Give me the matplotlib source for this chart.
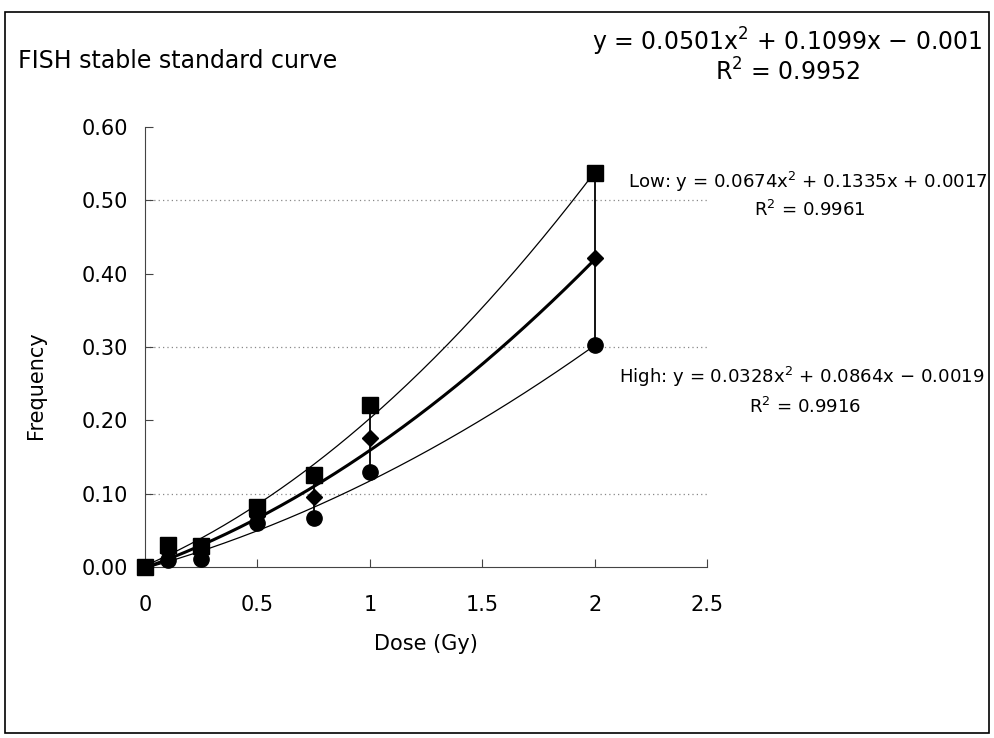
import matplotlib
matplotlib.use('Agg')
import matplotlib.pyplot as plt
import numpy as np
from matplotlib.patches import Rectangle

plt.rcParams['font.family'] = ['DejaVu Sans']

# dose points (Gy)
dose = [0, 0.1, 0.25, 0.5, 0.75, 1.0, 2.0]
low  = [0.0, 0.030, 0.028, 0.082, 0.125, 0.221, 0.537]
mean = [0.0, 0.020, 0.020, 0.070, 0.096, 0.176, 0.421]
high = [0.0, 0.010, 0.011, 0.060, 0.067, 0.130, 0.303]

# trendline coefficients (as printed on the chart)
coef_mean = [0.0501, 0.1099, -0.001]
coef_low  = [0.0674, 0.1335, 0.0017]
coef_high = [0.0328, 0.0864, -0.0019]

yticks = [0.0, 0.1, 0.2, 0.3, 0.4, 0.5, 0.6]
xticks = [0, 0.5, 1, 1.5, 2, 2.5]
xticklabels = ['0', '0.5', '1', '1.5', '2', '2.5']

fig = plt.figure(figsize=(9.94, 7.38), dpi=100)
fig.patches.append(Rectangle((0.005, 0.007), 0.99, 0.977, transform=fig.transFigure,
                             fill=False, edgecolor='k', lw=1.2))
ax = fig.add_axes([0.1459, 0.2317, 0.5654, 0.5962])

# dotted grid lines
for g in [0.1, 0.3, 0.5]:
    ax.axhline(g, color='#888888', lw=0.9, ls=(0, (1, 2.5)), zorder=1)

# fitted curves
xs = np.linspace(0, 2, 200)
ax.plot(xs, np.polyval(coef_low, xs), color='k', lw=0.9, zorder=2)
ax.plot(xs, np.polyval(coef_mean, xs), color='k', lw=2.2, zorder=2)
ax.plot(xs, np.polyval(coef_high, xs), color='k', lw=0.9, zorder=2)

# vertical range lines low-high
for d, lo, hi in zip(dose, low, high):
    ax.plot([d, d], [hi, lo], color='k', lw=1.3, zorder=2)

ax.plot(dose, low, ls='none', marker='s', ms=11.5, color='k', clip_on=False, zorder=4)
ax.plot(dose, mean, ls='none', marker='D', ms=8, color='k', clip_on=False, zorder=4)
ax.plot(dose, high, ls='none', marker='o', ms=11, color='k', clip_on=False, zorder=4)

ax.set_xlim(0, 2.5)
ax.set_ylim(0, 0.6)
ax.spines['top'].set_visible(False)
ax.spines['right'].set_visible(False)
ax.spines['left'].set_color('#444444')
ax.spines['bottom'].set_color('#444444')
ax.set_xticks(xticks)
ax.set_xticklabels(xticklabels)
ax.set_yticks(yticks)
ax.set_yticklabels(['%.2f' % v for v in yticks])
ax.tick_params(axis='both', direction='in', length=6, labelsize=15, pad=12, color='#444444')
ax.tick_params(axis='x', pad=20)

ax.set_xlabel('Dose (Gy)', fontsize=15, labelpad=14)
fig.text(0.036, 0.478, 'Frequency', fontsize=15, rotation=90, ha='center', va='center')

fig.text(0.018, 0.918, 'FISH stable standard curve', fontsize=17, ha='left', va='center')
fig.text(0.792, 0.943, r'y = 0.0501x$^2$ + 0.1099x $-$ 0.001', fontsize=17, ha='center', va='center')
fig.text(0.792, 0.902, r'R$^2$ = 0.9952', fontsize=17, ha='center', va='center')

fig.text(0.632, 0.753, r'Low: y = 0.0674x$^2$ + 0.1335x + 0.0017', fontsize=13.1, ha='left', va='center')
fig.text(0.815, 0.715, r'R$^2$ = 0.9961', fontsize=13.1, ha='center', va='center')
fig.text(0.623, 0.489, r'High: y = 0.0328x$^2$ + 0.0864x $-$ 0.0019', fontsize=13.1, ha='left', va='center')
fig.text(0.810, 0.449, r'R$^2$ = 0.9916', fontsize=13.1, ha='center', va='center')

fig.savefig('out.png', dpi=100)
